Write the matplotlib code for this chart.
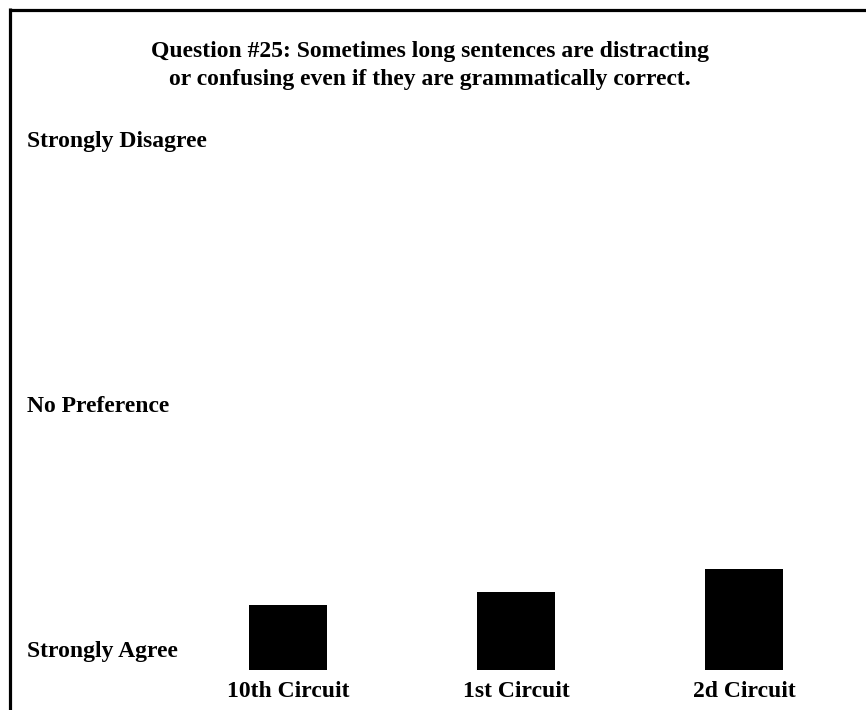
import matplotlib
matplotlib.use("Agg")
import matplotlib.pyplot as plt
import matplotlib.transforms as mtransforms
from matplotlib.lines import Line2D
import numpy as np

# Data
categories = ["10th Circuit", "1st Circuit", "2d Circuit"]
mean_response = [1.49, 1.59, 1.76]
scale_values = [1, 3, 5]
scale_labels = ["Strongly Agree", "No Preference", "Strongly Disagree"]
title_lines = ["Question #25: Sometimes long sentences are distracting",
               "or confusing even if they are grammatically correct."]

plt.rcParams['font.family'] = ['Liberation Serif', 'DejaVu Serif']
plt.rcParams['font.weight'] = 'bold'

FS = 17
W, H = 866, 710
fig = plt.figure(figsize=(W / 100, H / 100), dpi=100)
fig.patch.set_facecolor('white')

# axes: x positions 0..2 at px 288,516,744 ; y=1 at px 670, y=5 at px 140
left_px, right_px = 174, 858
top_px, bot_px = 140, 670
ax = fig.add_axes([left_px / W, 1 - bot_px / H, (right_px - left_px) / W, (bot_px - top_px) / H])
ax.set_xlim(-0.5, 2.5)
ax.set_ylim(1, 5)

x = np.arange(len(categories))
heights = [v - scale_values[0] for v in mean_response]
ax.bar(x, heights, bottom=scale_values[0], width=0.338, color='black', edgecolor='none')

for s in ax.spines.values():
    s.set_visible(False)
ax.set_yticks([])
ax.set_xticks(x)
ax.set_xticklabels(categories, fontsize=FS, fontweight='bold')
ax.tick_params(axis='x', length=0, pad=8)

# y scale labels, left-aligned at x=27px
trans = mtransforms.blended_transform_factory(fig.transFigure, ax.transData)
for i, (v, lab) in enumerate(zip(scale_values, scale_labels)):
    off = mtransforms.ScaledTranslation(0, (19 if i == 0 else -2) / 100, fig.dpi_scale_trans)
    fig.text(27 / W, v, lab, transform=trans + off, ha='left', va='center',
             fontsize=FS, fontweight='bold')

# title
fig.text(430 / W, 1 - 51 / H, title_lines[0], ha='center', va='center', fontsize=FS, fontweight='bold')
fig.text(430 / W, 1 - 80 / H, title_lines[1], ha='center', va='center', fontsize=FS, fontweight='bold')

# border lines (top and left)
fig.add_artist(Line2D([8.5 / W, 1.0], [1 - 9.5 / H, 1 - 9.5 / H], transform=fig.transFigure,
                      color='black', linewidth=2.3, solid_capstyle='butt'))
fig.add_artist(Line2D([9.5 / W, 9.5 / W], [1 - 8 / H, 0.0], transform=fig.transFigure,
                      color='black', linewidth=2.3, solid_capstyle='butt'))

fig.savefig("out.png", dpi=100, facecolor='white')
